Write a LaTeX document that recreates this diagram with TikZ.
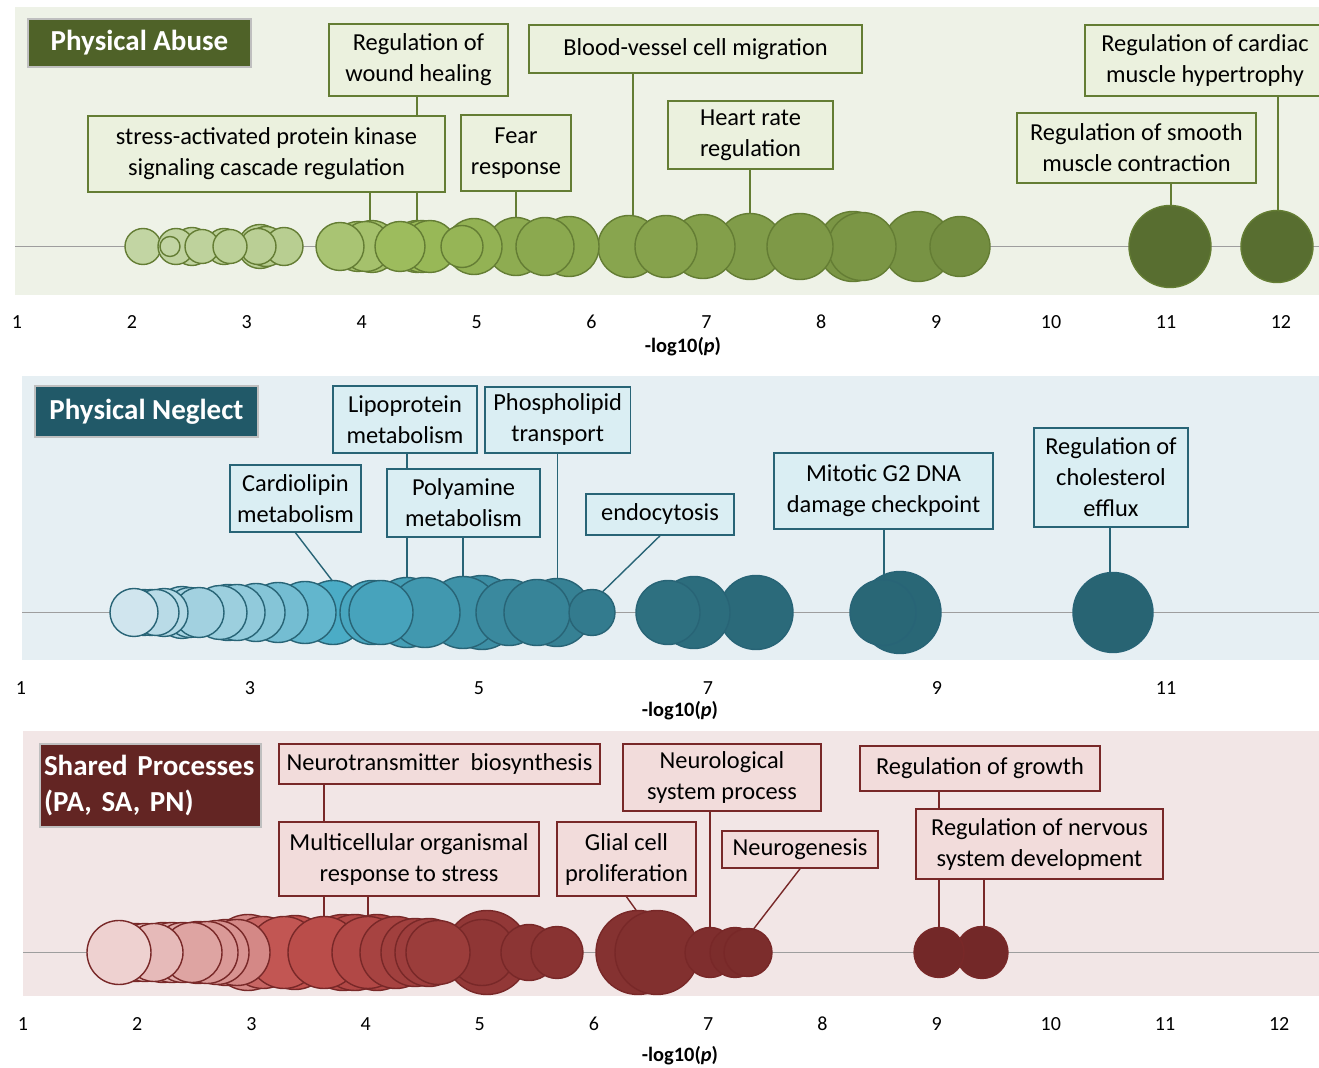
\documentclass[tikz,border=0pt]{standalone}
\usepackage{fontspec}
\setmainfont{Carlito}
\usepackage{tikz}

\definecolor{paBack}{RGB}{238,242,231}
\definecolor{paBox}{RGB}{235,241,222}
\definecolor{paLine}{RGB}{100,125,52}
\definecolor{paTitle}{RGB}{79,98,40}
\definecolor{paLight}{RGB}{204,219,182}
\definecolor{paMid}{RGB}{155,187,89}
\definecolor{paDark}{RGB}{88,110,48}
\definecolor{pnBack}{RGB}{230,239,243}
\definecolor{pnBox}{RGB}{218,238,243}
\definecolor{pnLine}{RGB}{40,100,118}
\definecolor{pnTitle}{RGB}{33,89,104}
\definecolor{pnLight}{RGB}{220,234,241}
\definecolor{pnMid}{RGB}{75,172,198}
\definecolor{pnDark}{RGB}{40,100,115}
\definecolor{spBack}{RGB}{242,230,230}
\definecolor{spBox}{RGB}{242,220,219}
\definecolor{spLine}{RGB}{120,40,40}
\definecolor{spTitle}{RGB}{99,37,35}
\definecolor{spLight}{RGB}{242,220,219}
\definecolor{spMid}{RGB}{192,80,77}
\definecolor{spDark}{RGB}{115,40,40}

\begin{document}
\begin{tikzpicture}[x=0.5pt,y=-0.5pt,
	label node/.style={draw,line width=0.8pt,align=center,inner sep=0pt,font=\fontsize{12.2}{15.5}\selectfont},
	pa node/.style={label node,draw=paLine,fill=paBox},
	pn node/.style={label node,draw=pnLine,fill=pnBox},
	sp node/.style={label node,draw=spLine,fill=spBox},
	title node/.style={draw=black!25,line width=1pt,text=white,inner sep=0pt,font=\fontsize{14.5}{18}\selectfont\bfseries},
	tick label/.style={font=\fontsize{10}{12}\selectfont},
	axis title/.style={font=\fontsize{10.2}{12}\selectfont\bfseries},
	axis line/.style={draw=black!38,line width=0.8pt},
	leader/.style={line width=0.7pt},
	bubble/.style={line width=0.7pt}]

	\useasboundingbox (0,0) rectangle (1319,1068);

	\fill[paBack] (15,7) rectangle (1319,295);
	\draw[axis line] (15,246.5) -- (1319,246.5);
	\foreach \x/\r/\t in {1170/41/100,1277/36/100,853/35/74,918/35/76,862/34/74,750/33/70,800/33/72,
		703/32/68,629/31/64,666/31/66,569/30/62,960/30/80,516/29/60,545/29/62,474/28/56,372/26/40,
		417/26/50,422/26/50,430/26/52,358/25/38,366/25/40,400/25/48,340/24/36,260/22/18,462/21/54,
		266/20/20,192/19/12,284/19/20,143/18/10,176/18/12,224/18/16,258/18/18,202/17/14,230/17/16,170/10/10}{
		\pgfmathtruncatemacro\m{\t<50 ? 2*\t : 2*\t-100}
		\ifnum\t<50 \colorlet{bub}{paMid!\m!paLight}\else\colorlet{bub}{paDark!\m!paMid}\fi
		\draw[bubble,draw=paLine,fill=bub] (\x,246.5) circle[radius=\r];
	}
	\node[title node,fill=paTitle,minimum width=111.5pt,minimum height=24pt] (pa) at (139.5,43) {Physical Abuse};
	\node[pa node,minimum width=89.5pt,minimum height=36pt] (wound) at (418.5,60) {Regulation of\\wound healing};
	\node[pa node,minimum width=178.5pt,minimum height=38pt] (stress) at (266.5,154) {stress-activated protein kinase\\signaling cascade regulation};
	\node[pa node,minimum width=55pt,minimum height=38pt] (fear) at (516,153) {Fear\\response};
	\node[pa node,minimum width=166.5pt,minimum height=24pt] (vessel) at (695.5,49) {Blood-vessel cell migration};
	\node[pa node,minimum width=82.5pt,minimum height=34pt] (heart) at (750.5,135) {Heart rate\\regulation};
	\node[pa node,minimum width=119.5pt,minimum height=35pt] (smooth) at (1136.5,148) {Regulation of smooth\\muscle contraction};
	\node[pa node,minimum width=120pt,minimum height=35.5pt] (cardiac) at (1205,60.5) {Regulation of cardiac\\muscle hypertrophy};
	\coordinate (stressEnd) at (370,221);
	\coordinate (woundEnd) at (417,221);
	\coordinate (fearEnd) at (516,218);
	\coordinate (vesselEnd) at (633,215);
	\coordinate (heartEnd) at (750,213);
	\coordinate (smoothEnd) at (1171,206);
	\coordinate (cardiacEnd) at (1278,211);
	\draw[leader,paLine] (woundEnd |- wound.south) -- (woundEnd |- stress.north);
	\draw[leader,paLine] (woundEnd |- stress.south) -- (woundEnd);
	\draw[leader,paLine] (stressEnd |- stress.south) -- (stressEnd);
	\draw[leader,paLine] (fearEnd |- fear.south) -- (fearEnd);
	\draw[leader,paLine] (vesselEnd |- vessel.south) -- (vesselEnd);
	\draw[leader,paLine] (heartEnd |- heart.south) -- (heartEnd);
	\draw[leader,paLine] (smoothEnd |- smooth.south) -- (smoothEnd);
	\draw[leader,paLine] (cardiacEnd |- cardiac.south) -- (cardiacEnd);
	\foreach \v in {1,...,12}
		\node[tick label] (paTick\v) at ({17+(\v-1)*114.9},322) {\v};
	\node[axis title] (paAxis) at (683,347) {-log10(\textit{p})};

	\fill[pnBack] (22,376) rectangle (1319,660);
	\draw[axis line] (22,612.5) -- (1319,612.5);
	\foreach \x/\r/\t in {900/41/98,1113/40/100,482/37/70,756/37/96,463/36/68,694/36/94,407/35/60,
		425/35/64,557/34/80,509/33/74,537/33/78,883/33/98,333/32/50,372/32/54,381/32/56,668/32/92,
		305/31/42,278/30/36,256/29/30,228/28/24,237/28/26,220/27/22,182/26/16,190/25/18,199/25/20,
		164/24/14,144/23/8,151/23/10,156/23/12,592/23/84,134/24/4}{
		\pgfmathtruncatemacro\m{\t<50 ? 2*\t : 2*\t-100}
		\ifnum\t<50 \colorlet{bub}{pnMid!\m!pnLight}\else\colorlet{bub}{pnDark!\m!pnMid}\fi
		\draw[bubble,draw=pnLine,fill=bub] (\x,612.5) circle[radius=\r];
	}
	\node[title node,fill=pnTitle,minimum width=111.5pt,minimum height=25.5pt] (pn) at (146.5,411.5) {Physical Neglect};
	\node[pn node,minimum width=72pt,minimum height=33.5pt] (lipo) at (405,419.5) {Lipoprotein\\metabolism};
	\node[pn node,minimum width=72.75pt,minimum height=33pt] (phospho) at (557.75,420) {Phospholipid\\transport};
	\node[pn node,minimum width=65.5pt,minimum height=33.5pt] (cardio) at (295.5,498.5) {Cardiolipin\\metabolism};
	\node[pn node,minimum width=76.5pt,minimum height=34pt] (poly) at (463.5,503) {Polyamine\\metabolism};
	\node[pn node,minimum width=74pt,minimum height=20.5pt] (endo) at (660,514.5) {endocytosis};
	\node[pn node,minimum width=109.5pt,minimum height=38pt] (mitotic) at (883.5,491) {Mitotic G2 DNA\\damage checkpoint};
	\node[pn node,minimum width=77pt,minimum height=49.5pt] (efflux) at (1111,477.5) {Regulation of\\cholesterol\\efflux};
	\coordinate (lipoEnd) at (407,577);
	\coordinate (phosphoEnd) at (557.7,578);
	\coordinate (cardioEnd) at (332.5,581);
	\coordinate (polyEnd) at (463,576);
	\coordinate (endoEnd) at (602.7,591.7);
	\coordinate (mitoticEnd) at (884,581);
	\coordinate (effluxEnd) at (1110,573);
	\draw[leader,pnLine] (lipoEnd |- lipo.south) -- (lipoEnd |- poly.north);
	\draw[leader,pnLine] (lipoEnd |- poly.south) -- (lipoEnd);
	\draw[leader,pnLine] (phosphoEnd |- phospho.south) -- (phosphoEnd);
	\draw[leader,pnLine] (cardio.south) -- (cardioEnd);
	\draw[leader,pnLine] (polyEnd |- poly.south) -- (polyEnd);
	\draw[leader,pnLine] (endo.south) -- (endoEnd);
	\draw[leader,pnLine] (mitoticEnd |- mitotic.south) -- (mitoticEnd);
	\draw[leader,pnLine] (effluxEnd |- efflux.south) -- (effluxEnd);
	\foreach \v in {1,3,...,11}
		\node[tick label] (pnTick\v) at ({21+(\v-1)*114.5},688) {\v};
	\node[axis title] (pnAxis) at (680,711) {-log10(\textit{p})};

	\fill[spBack] (23,731) rectangle (1319,996);
	\draw[axis line] (23,952.5) -- (1319,952.5);
	\foreach \x/\r/\t in {487/42/80,638/42/88,657/42/90,248/38/30,343/38/58,355/38/60,377/38/62,
		295/37/50,263/36/42,284/36/48,324/36/54,368/36/60,396/36/66,415/34/70,429/34/72,226/33/28,
		237/33/30,482/33/82,217/32/26,438/32/74,198/31/22,207/31/24,163/30/14,172/30/16,183/30/18,
		192/30/20,136/29/8,145/29/10,154/29/12,119/32/4,529/28/84,557/26/86,982/26/100,710/25/92,
		735/25/94,939/25/100,748/24/94}{
		\pgfmathtruncatemacro\m{\t<50 ? 2*\t : 2*\t-100}
		\ifnum\t<50 \colorlet{bub}{spMid!\m!spLight}\else\colorlet{bub}{spDark!\m!spMid}\fi
		\draw[bubble,draw=spLine,fill=bub] (\x,952.5) circle[radius=\r];
	}
	\node[title node,fill=spTitle,minimum height=41.5pt,text width=106.5pt,inner xsep=2pt,align=left] (sp) at (150.5,785.5) {Shared Processes\\(PA, SA, PN)};
	\node[sp node,minimum width=160.5pt,minimum height=20pt] (transmitter) at (439.5,764) {Neurotransmitter\ \ biosynthesis};
	\node[sp node,minimum width=130pt,minimum height=37pt] (organism) at (409,859) {Multicellular organismal\\response to stress};
	\node[sp node,minimum width=69.5pt,minimum height=37pt] (glial) at (626.5,859) {Glial cell\\proliferation};
	\node[sp node,minimum width=99pt,minimum height=33.5pt] (neuro) at (722,777.5) {Neurological\\system process};
	\node[sp node,minimum width=78.25pt,minimum height=18.5pt] (genesis) at (800,849.5) {Neurogenesis};
	\node[sp node,minimum width=120pt,minimum height=22.5pt] (growth) at (980,768.5) {Regulation of growth};
	\node[sp node,minimum width=123.5pt,minimum height=35pt] (nervous) at (1039.5,844) {Regulation of nervous\\system development};
	\coordinate (transmitterEnd) at (324,917);
	\coordinate (organismEnd) at (368,917);
	\coordinate (glialEnd) at (636,910);
	\coordinate (neuroEnd) at (710,928);
	\coordinate (genesisEnd) at (753.6,929);
	\coordinate (growthEnd) at (939,927);
	\coordinate (nervousEnd) at (984,927);
	\draw[leader,spLine] (transmitterEnd |- transmitter.south) -- (transmitterEnd |- organism.north);
	\draw[leader,spLine] (transmitterEnd |- organism.south) -- (transmitterEnd);
	\draw[leader,spLine] (organismEnd |- organism.south) -- (organismEnd);
	\draw[leader,spLine] (glial.south) -- (glialEnd);
	\draw[leader,spLine] (neuroEnd |- neuro.south) -- (neuroEnd);
	\draw[leader,spLine] (genesis.south) -- (genesisEnd);
	\draw[leader,spLine] (growthEnd |- growth.south) -- (growthEnd |- nervous.north);
	\draw[leader,spLine] (growthEnd |- nervous.south) -- (growthEnd);
	\draw[leader,spLine] (nervousEnd |- nervous.south) -- (nervousEnd);
	\foreach \v in {1,...,12}
		\node[tick label] (spTick\v) at ({23+(\v-1)*114.2},1024) {\v};
	\node[axis title] (spAxis) at (680,1056) {-log10(\textit{p})};
\end{tikzpicture}
\end{document}
